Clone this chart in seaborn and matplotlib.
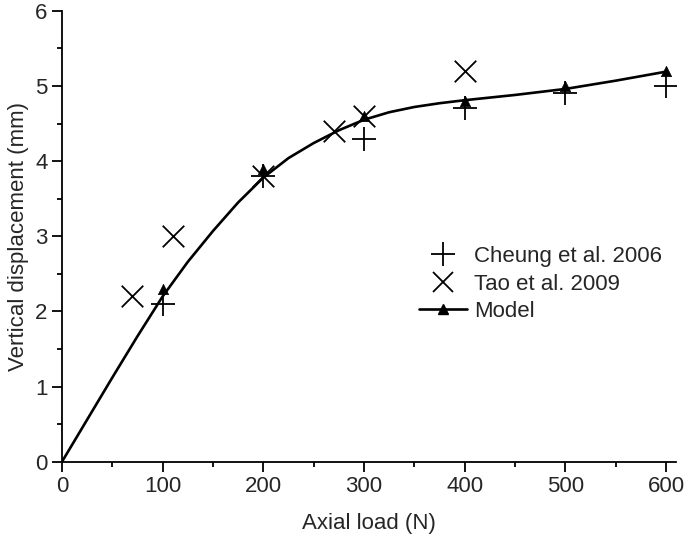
import matplotlib
matplotlib.use('Agg')
import matplotlib.pyplot as plt
from matplotlib.lines import Line2D
from matplotlib.ticker import MultipleLocator
import pandas as pd
import seaborn as sns

# Valores
cheung_x = [100, 200, 300, 400, 500, 600]
cheung_y = [2.1, 3.8, 4.3, 4.7, 4.9, 5.0]

tao_x = [70, 110, 200, 270, 300, 400]
tao_y = [2.2, 3.0, 3.8, 4.4, 4.6, 5.2]

model_x = [100, 200, 300, 400, 500, 600]
model_y = [2.3, 3.9, 4.6, 4.8, 5.0, 5.2]

# Curva contínua do modelo (lida ponto a ponto)
curve_x = [0, 25, 50, 75, 100, 125, 150, 175, 200, 225, 250, 275, 300,
           325, 350, 375, 400, 450, 500, 550, 600]
curve_y = [0, 0.56, 1.12, 1.67, 2.2, 2.66, 3.07, 3.45, 3.78, 4.04, 4.24, 4.41, 4.55,
           4.65, 4.72, 4.77, 4.81, 4.88, 4.96, 5.07, 5.19]

cheung = pd.DataFrame({'carga': cheung_x, 'desloc': cheung_y})
tao = pd.DataFrame({'carga': tao_x, 'desloc': tao_y})
modelo = pd.DataFrame({'carga': model_x, 'desloc': model_y})
curva = pd.DataFrame({'carga': curve_x, 'desloc': curve_y})

sns.set_style('ticks')
plt.rcParams['font.family'] = ['Liberation Sans', 'DejaVu Sans']

fig = plt.figure(figsize=(6.85, 5.39), dpi=100)
ax = fig.add_axes([0.0905, 0.1434, 0.8965, 0.8366])

sns.lineplot(x='carga', y='desloc', data=curva, color='black', linewidth=1.9, ax=ax)
sns.scatterplot(x='carga', y='desloc', data=modelo, marker='^', s=55, color='black',
                edgecolor='black', linewidth=0.5, ax=ax, zorder=3)
sns.scatterplot(x='carga', y='desloc', data=cheung, marker='+', s=300, color='black',
                linewidth=1.3, ax=ax, zorder=4)
sns.scatterplot(x='carga', y='desloc', data=tao, marker='x', s=240, color='black',
                linewidth=1.3, ax=ax, zorder=4)

ax.set_xlim(0, 610)
ax.set_ylim(0, 6)
ax.xaxis.set_major_locator(MultipleLocator(100))
ax.xaxis.set_minor_locator(MultipleLocator(50))
ax.yaxis.set_major_locator(MultipleLocator(1))
ax.yaxis.set_minor_locator(MultipleLocator(0.5))
ax.tick_params(which='major', length=7, width=1.3, labelsize=16, color='black', direction='out')
ax.tick_params(which='minor', length=3.6, width=1.3, color='black', direction='out')
for lado in ['left', 'bottom']:
    ax.spines[lado].set_linewidth(1.3)
    ax.spines[lado].set_color('black')
sns.despine(ax=ax)

ax.set_xlabel('Axial load (N)', fontsize=16, labelpad=11)
ax.set_ylabel('Vertical displacement (mm)', fontsize=16, labelpad=4)

handles = [
    Line2D([], [], linestyle='', marker='+', markersize=17, mew=1.3, color='black'),
    Line2D([], [], linestyle='', marker='x', markersize=15, mew=1.3, color='black'),
    Line2D([], [], linestyle='-', marker='^', markersize=7, linewidth=1.9, color='black'),
]
ax.legend(handles, ['Cheung et al. 2006', 'Tao et al. 2009', 'Model'],
          loc='center left', bbox_to_anchor=(0.548, 0.394), frameon=False,
          fontsize=16, handlelength=2.2, handletextpad=0.3, labelspacing=0.3)

fig.savefig('out.png', dpi=100)
